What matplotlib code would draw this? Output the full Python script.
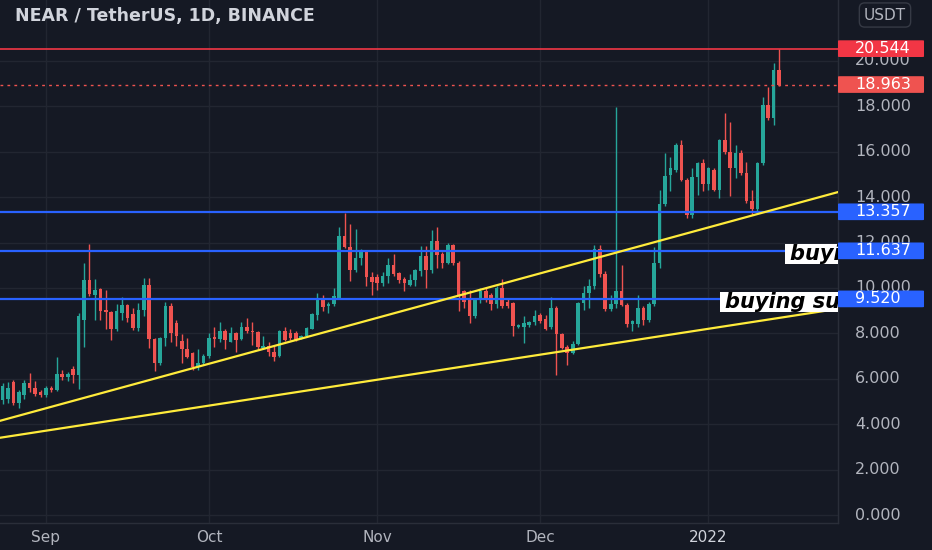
import numpy as np
import pandas as pd
import matplotlib
matplotlib.use("Agg")
import matplotlib.pyplot as plt
import matplotlib.dates as mdates
import matplotlib.transforms as mtransforms
from matplotlib.patches import Rectangle, FancyBboxPatch

# ---------------- data ----------------
start_date = "2021-08-24"

opens = [
    5.05, 5.10, 5.85, 4.95, 5.30, 5.80, 5.60, 5.40,
    5.30, 5.60, 5.50, 6.20, 6.10, 6.45, 6.15, 8.60, 10.35, 9.70,
    9.95, 9.05, 8.95, 8.20, 8.90, 9.25, 8.84, 8.25, 9.05, 10.15,
    7.74, 6.70, 7.80, 9.20, 8.45, 7.66, 7.30, 7.15, 6.50, 6.70,
    7.00, 7.85, 7.75, 8.10, 7.60, 8.00, 7.75, 8.30, 8.10, 8.05,
    7.35, 7.45, 7.20, 7.00, 8.10, 8.00, 8.00, 7.80, 7.90, 8.20,
    8.80, 9.50, 9.20, 9.30, 9.55, 12.30, 11.80, 10.80, 11.30, 11.60,
    10.50, 10.50, 10.20, 10.55, 11.00, 10.65, 10.40, 10.15, 10.35, 10.75,
    11.40, 10.80, 12.05, 11.50, 11.10, 11.90, 11.10, 9.85, 9.50, 8.75,
    9.50, 9.85, 9.70, 9.30, 10.00, 9.40, 9.35, 8.30, 8.30, 8.35,
    8.50, 8.80, 8.65, 8.28, 9.10, 7.96, 7.40, 7.15, 7.55, 9.35,
    9.80, 10.10, 11.70, 10.60, 9.06, 9.30, 9.86, 9.27, 8.40, 8.40,
    9.10, 8.60, 9.30, 11.10, 13.70, 14.96, 15.20, 16.30, 14.77, 13.23,
    14.90, 15.50, 14.60, 15.20, 14.33, 16.53, 16.00, 15.30, 15.94, 15.06,
    13.82, 13.50, 15.50, 18.06, 17.48, 19.60,
]
highs = [
    5.82, 5.85, 5.95, 5.50, 5.95, 6.27, 5.90, 5.50,
    5.70, 5.70, 6.95, 6.40, 6.30, 6.55, 8.90, 11.10, 11.95, 10.40,
    10.00, 9.90, 9.00, 9.30, 9.60, 9.30, 9.13, 9.35, 10.45, 10.45,
    7.80, 7.85, 9.40, 9.35, 8.60, 7.96, 7.80, 7.20, 7.30, 7.10,
    8.00, 8.30, 8.50, 8.20, 8.30, 8.05, 8.50, 8.70, 8.50, 8.10,
    7.90, 7.60, 7.45, 8.15, 8.30, 8.20, 8.10, 7.95, 8.30, 8.90,
    9.80, 9.70, 9.40, 10.00, 12.70, 13.30, 12.80, 12.60, 11.70, 11.65,
    10.70, 10.60, 10.70, 11.30, 11.50, 10.70, 10.50, 10.60, 10.85, 11.83,
    11.85, 12.57, 12.70, 11.60, 12.00, 11.95, 11.20, 9.93, 9.93, 9.55,
    10.00, 10.00, 9.78, 10.08, 10.40, 9.57, 9.40, 8.40, 8.75, 8.55,
    9.04, 8.90, 8.80, 9.60, 9.20, 8.03, 7.50, 7.65, 9.40, 10.10,
    10.40, 11.90, 11.90, 10.75, 9.70, 17.99, 11.03, 9.35, 8.60, 9.70,
    9.20, 9.38, 11.80, 14.33, 15.94, 15.75, 16.40, 16.53, 14.85, 15.30,
    15.57, 15.70, 15.35, 15.30, 16.55, 17.70, 17.33, 16.30, 16.09, 15.57,
    14.33, 15.57, 18.42, 18.87, 19.90, 20.54,
]
lows = [
    4.90, 4.95, 4.85, 4.70, 5.10, 5.40, 5.25, 5.20,
    5.20, 5.40, 5.45, 5.95, 5.90, 5.80, 5.55, 7.40, 9.65, 8.60,
    8.60, 8.20, 7.70, 8.10, 8.60, 8.50, 8.17, 8.10, 8.76, 7.37,
    6.34, 6.60, 7.45, 7.60, 7.45, 6.70, 6.93, 6.40, 6.40, 6.60,
    6.90, 7.40, 7.60, 7.30, 7.60, 7.20, 7.70, 8.00, 7.50, 7.30,
    7.30, 7.00, 6.78, 6.95, 7.65, 7.70, 7.65, 7.75, 7.85, 8.20,
    8.60, 9.00, 8.90, 9.20, 9.50, 11.75, 10.30, 10.70, 11.00, 10.10,
    9.70, 9.90, 10.10, 10.20, 10.55, 10.23, 9.86, 10.08, 10.10, 10.52,
    10.00, 10.66, 10.90, 10.90, 11.05, 11.00, 8.98, 9.13, 8.47, 8.70,
    9.35, 9.40, 9.05, 9.12, 9.13, 9.13, 7.88, 8.25, 7.59, 8.28,
    8.35, 8.45, 8.13, 8.20, 6.15, 7.30, 6.60, 7.10, 7.50, 9.05,
    9.10, 9.95, 10.50, 8.98, 8.98, 9.10, 9.20, 8.30, 8.10, 8.30,
    8.35, 8.50, 9.20, 10.90, 13.60, 14.26, 15.13, 14.70, 13.08, 13.08,
    14.10, 14.26, 14.33, 14.26, 13.96, 15.90, 14.04, 14.85, 14.99, 13.74,
    13.23, 13.30, 15.40, 17.40, 17.20, 18.90,
]
closes = [
    5.70, 5.60, 4.95, 5.40, 5.80, 5.60, 5.35, 5.30,
    5.60, 5.50, 6.20, 6.10, 6.20, 6.15, 8.75, 10.35, 9.75, 9.90,
    9.00, 8.95, 8.20, 9.00, 9.25, 8.70, 8.25, 9.05, 10.15, 7.74,
    6.71, 7.80, 9.20, 8.03, 7.90, 7.30, 6.95, 6.50, 6.70, 7.00,
    7.80, 7.75, 8.10, 7.70, 8.00, 7.70, 8.30, 8.10, 8.05, 7.40,
    7.45, 7.20, 6.95, 8.10, 7.70, 7.80, 7.70, 7.90, 8.25, 8.84,
    9.50, 9.15, 9.30, 9.65, 12.30, 11.80, 10.80, 11.30, 11.60, 10.50,
    10.25, 10.20, 10.55, 11.00, 10.60, 10.37, 10.20, 10.35, 10.80, 11.40,
    10.80, 12.05, 11.47, 11.10, 11.90, 11.10, 9.64, 9.40, 8.75, 9.50,
    9.85, 9.50, 9.30, 10.00, 9.20, 9.20, 8.32, 8.38, 8.45, 8.50,
    8.75, 8.55, 8.20, 9.13, 7.96, 7.37, 7.15, 7.55, 9.35, 9.80,
    10.10, 11.70, 10.60, 9.06, 9.30, 9.86, 9.27, 8.40, 8.55, 9.10,
    8.60, 9.30, 11.10, 13.70, 14.95, 15.30, 16.30, 14.77, 13.23, 14.90,
    15.50, 14.60, 15.30, 14.33, 16.50, 16.00, 15.30, 15.94, 15.06, 13.82,
    13.50, 15.50, 18.06, 17.48, 19.60, 18.963,
]

resistance_level = 20.544
last_price = 18.963
support_levels = [13.357, 11.637, 9.520]

trend_upper_dates = ["2021-08-24", "2022-01-24"]
trend_upper_prices = [4.18, 14.17]
trend_lower_dates = ["2021-08-24", "2022-01-24"]
trend_lower_prices = [3.42, 9.05]

price_ticks = [0, 2, 4, 6, 8, 10, 12, 14, 16, 18, 20]
month_ticks = ["2021-09-01", "2021-10-01", "2021-11-01", "2021-12-01", "2022-01-01"]
month_labels = ["Sep", "Oct", "Nov", "Dec", "2022"]
note_texts = ["buying support zone", "buying support zone"]
note_levels = [11.637, 9.520]

title = "NEAR / TetherUS, 1D, BINANCE"
currency = "USDT"

# ---------------- styling ----------------
BG = "#151924"
GRID = "#222631"
UP = "#26a69a"
DOWN = "#ef5350"
BLUE = "#2962ff"
RED_LINE = "#f23645"
YELLOW = "#ffeb3b"
TXT = "#b2b5be"

W, H = 932, 550
PLOT_W, PLOT_H = 838, 523
fig = plt.figure(figsize=(W / 100, H / 100), dpi=100, facecolor=BG)
ax = fig.add_axes([0, 1 - PLOT_H / H, PLOT_W / W, PLOT_H / H])
ax.set_facecolor(BG)

px_per_unit = 22.7
y_top = 515 / px_per_unit
y_bot = -(PLOT_H - 515) / px_per_unit
ax.set_ylim(y_bot, y_top)

dates = pd.date_range(start_date, periods=len(opens), freq="D")
xd = mdates.date2num(dates.to_pydatetime())
d0 = mdates.date2num(pd.Timestamp("2021-09-01").to_pydatetime())
ax.set_xlim(d0 - 8.471, d0 + 145.856)

o = np.array(opens); h = np.array(highs); l = np.array(lows); c = np.array(closes)
cols = np.where(c >= o, UP, DOWN)
ax.vlines(xd, l, h, colors=cols, linewidth=1.0, zorder=2)
bottoms = np.minimum(o, c)
heights = np.maximum(np.abs(c - o), 0.05)
ax.bar(xd, heights, width=0.66, bottom=bottoms, color=cols, linewidth=0, zorder=3)

# grid
ax.set_yticks(price_ticks)
mt = mdates.date2num([pd.Timestamp(m).to_pydatetime() for m in month_ticks])
ax.set_xticks(mt)
ax.set_xticklabels(month_labels)
ax.grid(True, color=GRID, linewidth=1.0, zorder=0)
ax.set_axisbelow(True)
ax.tick_params(axis="y", length=0, labelleft=False)
ax.tick_params(axis="x", length=0, pad=5, labelsize=11, labelcolor=TXT)
for lbl in ax.get_xticklabels():
    if lbl.get_text() == "2022":
        lbl.set_color("#d1d4dc")
for s in ["top", "left"]:
    ax.spines[s].set_visible(False)
for s in ["bottom", "right"]:
    ax.spines[s].set_color("#2a2e39")
    ax.spines[s].set_linewidth(1.0)

# horizontal levels
ax.axhline(resistance_level, color=RED_LINE, linewidth=1.2, zorder=4)
ax.axhline(last_price, color=DOWN, linewidth=1.0, linestyle=(0, (2, 3)), zorder=4)
for lv in support_levels:
    ax.axhline(lv, color=BLUE, linewidth=1.6, zorder=4)

# trend lines
tu = mdates.date2num([pd.Timestamp(d).to_pydatetime() for d in trend_upper_dates])
tl = mdates.date2num([pd.Timestamp(d).to_pydatetime() for d in trend_lower_dates])
ax.axline((tu[0], trend_upper_prices[0]), (tu[1], trend_upper_prices[1]),
          color=YELLOW, linewidth=1.6, zorder=5)
ax.axline((tl[0], trend_lower_prices[0]), (tl[1], trend_lower_prices[1]),
          color=YELLOW, linewidth=1.6, zorder=5)

# text notes (clipped by the price scale, as in the reference)
blend = mtransforms.blended_transform_factory(ax.transAxes, ax.transData)
note_box_x = [785 / PLOT_W, 720 / PLOT_W]
note_txt_x = [790 / PLOT_W, 725 / PLOT_W]
for txt, lv, bx, tx in zip(note_texts, note_levels, note_box_x, note_txt_x):
    yc = lv - 3.0 / px_per_unit
    hh = 20.5 / px_per_unit
    ax.add_patch(Rectangle((bx, yc - hh / 2), 0.3, hh, transform=blend,
                           facecolor="white", edgecolor="none", zorder=6, clip_on=True))
    ax.text(tx, yc, txt, transform=blend, color="black", fontsize=15,
            fontweight="bold", fontstyle="italic", family="DejaVu Sans",
            va="center", ha="left", zorder=7, clip_on=True)

# ---------------- price scale ----------------
ax2 = fig.add_axes([PLOT_W / W, 1 - PLOT_H / H, (W - PLOT_W) / W, PLOT_H / H])
ax2.set_xlim(0, 1)
ax2.set_ylim(y_bot, y_top)
ax2.axis("off")
lab_x = 17 / (W - PLOT_W)
for p in price_ticks:
    ax2.text(lab_x, p, f"{p:.3f}", color=TXT, fontsize=11.5, va="center", ha="left", zorder=2)

box_h = 16.7 / px_per_unit
box_w = 0.915
labels = [(resistance_level, RED_LINE), (last_price, DOWN)] + [(lv, BLUE) for lv in support_levels]
for lv, col in labels:
    ax2.add_patch(FancyBboxPatch((0, lv - box_h / 2), box_w, box_h,
                                 boxstyle="round,pad=0,rounding_size=0.02",
                                 facecolor=col, edgecolor="none", zorder=3,
                                 mutation_aspect=1, clip_on=False))
    ax2.text(lab_x, lv, f"{lv:.3f}", color="white", fontsize=11.5, va="center",
             ha="left", zorder=4)

ax2.text(0.5, 1 - 15 / PLOT_H, currency, transform=ax2.transAxes, color=TXT,
         fontsize=11, ha="center", va="center",
         bbox=dict(boxstyle="round,pad=0.3,rounding_size=0.35", facecolor=BG,
                   edgecolor="#363a45", linewidth=1.0))

# title
fig.text(15 / W, 1 - 16 / H, title, color="#d1d4dc", fontsize=12.5,
         fontweight="bold", va="center", ha="left")

fig.savefig("out.png", dpi=100, facecolor=BG)
